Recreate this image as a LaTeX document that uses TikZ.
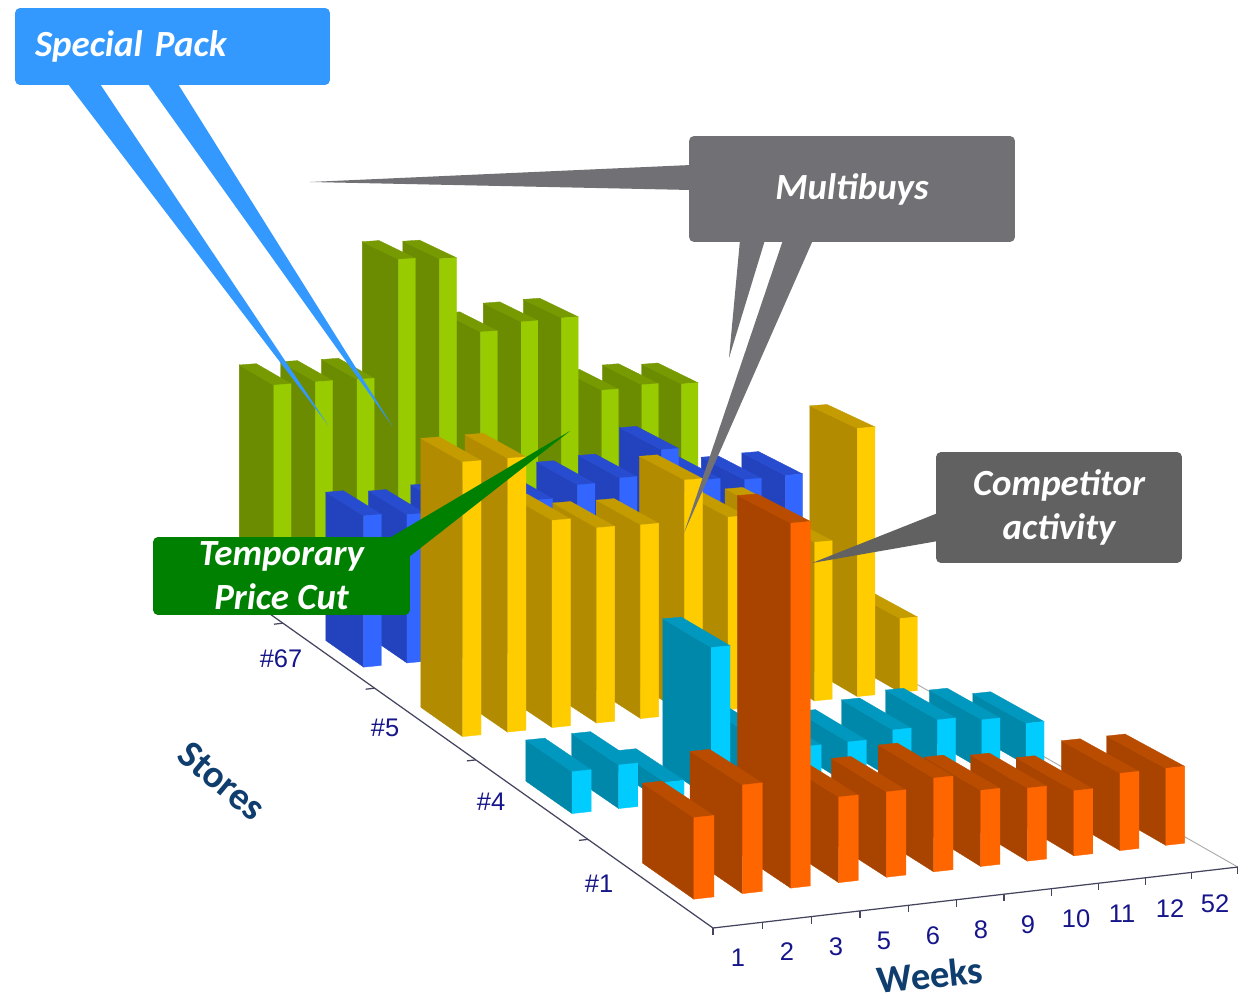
\documentclass[tikz,border=0pt]{standalone}
\usepackage{fontspec}
\newfontfamily\calfont{Carlito}
\newfontfamily\arialfont{Liberation Sans}

\definecolor{gdk}{HTML}{6B8C00}\definecolor{glt}{HTML}{99CC00}\definecolor{gtp}{HTML}{779A00}
\definecolor{bdk}{HTML}{2242BE}\definecolor{blt}{HTML}{3366FF}\definecolor{btp}{HTML}{284CD0}
\definecolor{ydk}{HTML}{B38B00}\definecolor{ylt}{HTML}{FFCC00}\definecolor{ytp}{HTML}{C49C00}
\definecolor{cdk}{HTML}{0088AA}\definecolor{clt}{HTML}{00CCFF}\definecolor{ctp}{HTML}{0098BE}
\definecolor{odk}{HTML}{A94400}\definecolor{olt}{HTML}{FF6600}\definecolor{otp}{HTML}{BA4C00}
\definecolor{spblue}{HTML}{3399FF}\definecolor{mbgray}{HTML}{717175}
\definecolor{cpgray}{HTML}{616161}\definecolor{tpgreen}{HTML}{008000}
\definecolor{navy}{HTML}{16168A}\definecolor{ttlblue}{HTML}{0F3E6E}
\definecolor{axisgray}{HTML}{44445E}

% floor point (u = week, v = store, h = height) in picture pixels
\newcommand\barpt[4]{%
  \pgfmathsetmacro\pjs{1/(1+0.0574*(#3)+0.0034*(#2))}%
  \pgfmathsetmacro\pjf{1+0.006*(#3)}%
  \pgfmathsetmacro\pjx{713+\pjs*(49.5*\pjf*(#2)-132.2*(#3))}%
  \pgfmathsetmacro\pjy{928-\pjs*(5.75*\pjf*(#2)+93.7*(#3)+(#4))}%
  \coordinate (#1) at (\pjx,\pjy);}

\newcommand\drawbar[4]{%
  \barpt{flb}{#1}{#2}{0}\barpt{frb}{#1+0.41}{#2}{0}%
  \barpt{frt}{#1+0.41}{#2}{#3}\barpt{flt}{#1}{#2}{#3}%
  \barpt{blt}{#1}{#2+0.41}{#3}\barpt{brt}{#1+0.41}{#2+0.41}{#3}%
  \barpt{blb}{#1}{#2+0.41}{0}%
  \filldraw[fill=#4dk, draw=#4dk] (flb) -- (flt) -- (blt) -- (blb) -- cycle;
  \filldraw[fill=#4tp, draw=#4tp] (flt) -- (frt) -- (brt) -- (blt) -- cycle;
  \filldraw[fill=#4lt, draw=#4lt] (flb) -- (frb) -- (frt) -- (flt) -- cycle;}

\tikzset{
  cbox/.style={rounded corners=0.1cm, inner sep=0pt, text=white, align=center,
    font=\calfont\bfseries\itshape\fontsize{21}{25}\selectfont},
  wklab/.style={font=\arialfont\fontsize{14.5}{14.5}\selectfont, text=navy, inner sep=0pt},
  axtitle/.style={font=\calfont\bfseries\fontsize{22}{22}\selectfont, text=ttlblue, inner sep=0pt},
  axis/.style={draw=axisgray, line width=0.7pt},
  flooredge/.style={draw=gray!70, line width=0.5pt}
}

\begin{document}
\begin{tikzpicture}[x=0.02cm, y=-0.02cm, line width=0.2pt]
  \useasboundingbox (0,0) rectangle (1247,1003);
  \fill[white] (0,0) rectangle (1247,1003);

  % axes
  \barpt{o}{0}{0}{0}\barpt{wend}{11}{0}{0}\barpt{send}{0}{5}{0}\barpt{rend}{11}{5}{0}
  \draw[flooredge] (wend) -- (rend);
  \draw[axis] (send) -- (o) -- (wend);
  \foreach \i in {0,...,11} {\barpt{t}{\i}{0}{0}\draw[axis] (t) -- ++(0,7);}
  \foreach \j in {1,...,4} {\barpt{t}{0}{\j}{0}\draw[axis] (t) -- ++(-9,1);}

  \foreach \lab/\lx/\ly in {1/738/958, 2/787/952, 3/836/947, 5/884/941, 6/933/936, 8/981/930,
      9/1028/925, 10/1076/919, 11/1122/914, 12/1170/909, 52/1215/904}
    \node[wklab] (wk\lab) at (\lx,\ly) {\lab};
  \foreach \lab/\lx/\ly in {67/281/659, 5/385/728, 4/491/802, 1/599/884}
    \node[wklab] (st\lab) at (\lx,\ly) {\#\lab};
  \node[axtitle, rotate=-40] (storesttl) at (222,781) {Stores};
  \node[axtitle, rotate=6] (weekttl) at (930,975) {Weeks};

  % bars, back row first, right to left
  \foreach \hh [count=\k] in {234,237,234,330,329,320,416,419,272,273,273}
    {\drawbar{11-\k+0.38}{4.29}{\hh}{g}}
  \foreach \hh [count=\k] in {185,184,188,229,199,195,181,180,180,177,180}
    {\drawbar{11-\k+0.38}{3.29}{\hh}{b}}
  \foreach \hh [count=\k] in {86,312,184,222,222,269,222,223,236,311,311}
    {\drawbar{11-\k+0.38}{2.29}{\hh}{y}}
  \foreach \hh [count=\k] in {46,55,60,54,46,46,60,164,23,47,45}
    {\drawbar{11-\k+0.38}{1.29}{\hh}{c}}
  \foreach \hh [count=\k] in {81,81,68,76,79,97,88,88,374,111,83}
    {\drawbar{11-\k+0.38}{0.29}{\hh}{o}}

  % callouts
  \coordinate (sptipa) at (328,425);
  \coordinate (sptipb) at (393,427);
  \fill[spblue] (68,84) -- (sptipa) -- (100,84) -- cycle;
  \fill[spblue] (148,84) -- (sptipb) -- (178,84) -- cycle;
  \node[cbox, fill=spblue, minimum width=6.3cm, minimum height=1.54cm,
    text width=5.5cm, align=left] (special) at (172.5,46.5) {Special Pack};

  \coordinate (mbtipa) at (310,182);
  \coordinate (mbtipb) at (729,358);
  \coordinate (mbtipc) at (684,533);
  \fill[mbgray] (691,165) -- (mbtipa) -- (691,190) -- cycle;
  \fill[mbgray] (740,240) -- (mbtipb) -- (765,240) -- cycle;
  \fill[mbgray] (783,240) -- (mbtipc) -- (813,240) -- cycle;
  \node[cbox, fill=mbgray, minimum width=6.52cm, minimum height=2.12cm] (multi) at (852,189) {Multibuys};

  \coordinate (cptip) at (812,563);
  \fill[cpgray] (938,513) -- (cptip) -- (938,541) -- cycle;
  \node[cbox, fill=cpgray, minimum width=4.92cm, minimum height=2.22cm] (comp) at (1059,507.5) {Competitor\\activity};

  \coordinate (tptip) at (570,431);
  \fill[tpgreen] (386,540) -- (tptip) -- (409,557) -- cycle;
  \node[cbox, fill=tpgreen, minimum width=5.14cm, minimum height=1.56cm] (tpc) at (281.5,576) {Temporary\\Price Cut};
\end{tikzpicture}
\end{document}
